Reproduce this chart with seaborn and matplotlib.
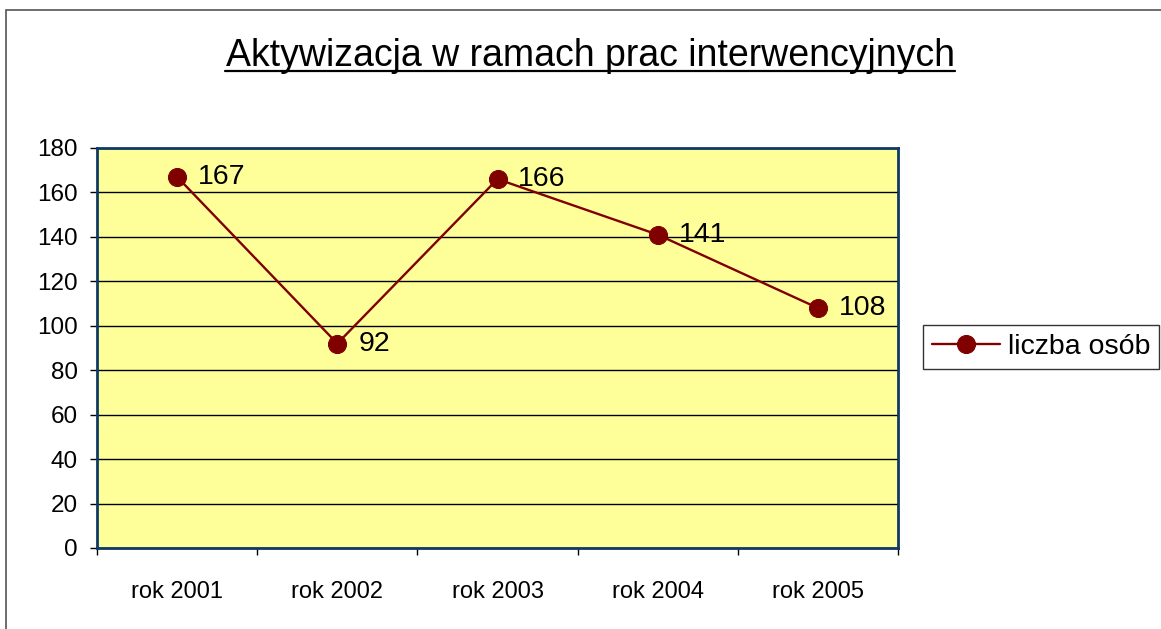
import matplotlib
matplotlib.use("Agg")
import matplotlib.pyplot as plt
import seaborn as sns
import pandas as pd
from matplotlib.patches import Rectangle
from matplotlib.lines import Line2D

# dane z wykresu
lata = ["rok 2001", "rok 2002", "rok 2003", "rok 2004", "rok 2005"]
liczba_osob = [167, 92, 166, 141, 108]
y_ticks = list(range(0, 181, 20))

TITLE = "Aktywizacja w ramach prac interwencyjnych"
SERIES = "liczba osób"
LINE_COLOR = "#800000"
FILL = "#FFFF99"
SPINE = "#0F3A66"

sns.set_style("white")
plt.rcParams["font.family"] = ["Liberation Sans", "DejaVu Sans"]
plt.rcParams["text.color"] = "black"
plt.rcParams["xtick.color"] = "black"
plt.rcParams["ytick.color"] = "black"

df = pd.DataFrame({"rok": lata, SERIES: liczba_osob})

fig = plt.figure(figsize=(11.61, 6.29), dpi=100)
ax = fig.add_axes([97 / 1161, 1 - 548 / 629, 801 / 1161, 400 / 629])
ax.set_facecolor(FILL)

sns.lineplot(data=df, x="rok", y=SERIES, ax=ax, color=LINE_COLOR, linewidth=1.7,
             marker="o", markersize=13, markeredgecolor=LINE_COLOR, label=SERIES,
             sort=False)

for i, v in enumerate(liczba_osob):
    ax.annotate(str(v), (i, v), xytext=(15, 0), textcoords="offset points",
                va="center", ha="left", fontsize=20.5, color="black")

ax.set_xlim(-0.5, len(lata) - 0.5)
ax.set_ylim(0, 180)
ax.set_yticks(y_ticks)
ax.set_xticks(range(len(lata)))
ax.set_xticklabels(lata)
ax.set_xticks([i - 0.5 for i in range(len(lata) + 1)], minor=True)
ax.set_xlabel("")
ax.set_ylabel("")

ax.yaxis.grid(True, color="black", linewidth=1)
ax.xaxis.grid(False)
ax.tick_params(axis="y", which="major", direction="out", length=5, width=1,
               color="black", labelsize=17.5, pad=9, left=True)
ax.tick_params(axis="x", which="major", length=0, labelsize=17, pad=24)
ax.tick_params(axis="x", which="minor", direction="out", length=5, width=1,
               color="black", bottom=True)
for s in ax.spines.values():
    s.set_visible(True)
    s.set_color(SPINE)
    s.set_linewidth(2)

leg = ax.legend(loc="center left", bbox_to_anchor=(923 / 1161, 1 - 347 / 629),
                bbox_transform=fig.transFigure, frameon=True, fancybox=False,
                fontsize=20.5, handlelength=2.4, borderpad=0.3,
                handletextpad=0.3, borderaxespad=0)
leg.get_frame().set_edgecolor("black")
leg.get_frame().set_linewidth(1)

# ramka całego wykresu
fig.add_artist(Rectangle((6 / 1161, -0.1), 1.2, 1 - 10 / 629 + 0.1,
                         transform=fig.transFigure, fill=False,
                         edgecolor="#555555", linewidth=1.2))

t = fig.text(590 / 1161, 1 - 56 / 629, TITLE, ha="center", va="center",
             fontsize=27, color="black")
fig.canvas.draw()
bb = t.get_window_extent().transformed(fig.transFigure.inverted())
fig.add_artist(Line2D([bb.x0, bb.x1], [bb.y0 + 0.004, bb.y0 + 0.004],
                      transform=fig.transFigure, color="black", linewidth=1.6))

fig.savefig("out.png", dpi=100)
